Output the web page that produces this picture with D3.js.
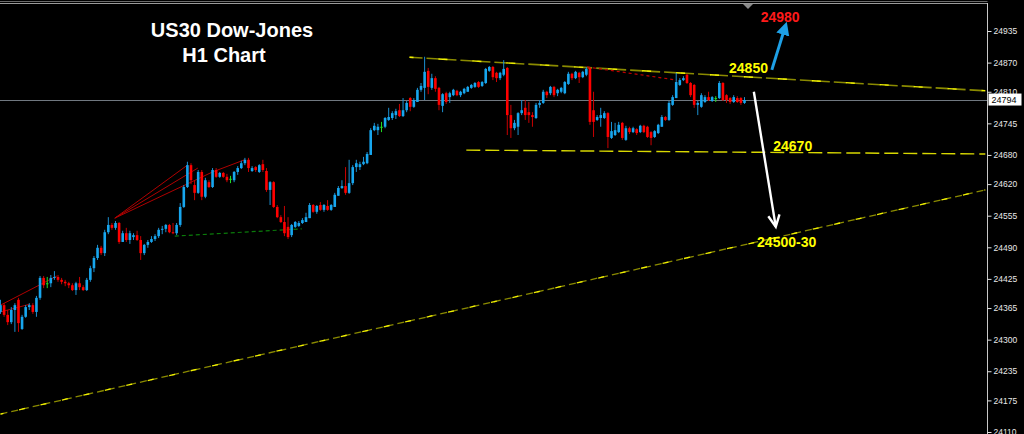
<!DOCTYPE html>
<html><head><meta charset="utf-8">
<script src="https://cdn.jsdelivr.net/npm/d3@7"></script>
<style>html,body{margin:0;padding:0;background:#000;overflow:hidden}svg{display:block}</style>
</head><body><svg id="c" width="1024" height="434"></svg>
<script>
// ---- data (US30 H1 candles) ----
const open = [24357,24371,24351,24336,24361,24382,24322,24347,24367,24371,
24357,24386,24427,24416,24416,24427,24429,24423,24419,24416,
24412,24402,24416,24408,24402,24423,24447,24468,24489,24478,
24521,24536,24530,24540,24501,24519,24505,24511,24515,24505,
24478,24495,24501,24507,24513,24526,24528,24536,24521,24519,
24536,24573,24614,24659,24618,24602,24645,24594,24624,24614,
24649,24635,24643,24635,24631,24628,24645,24653,24663,24670,
24647,24655,24645,24661,24647,24608,24624,24573,24552,24542,
24532,24515,24532,24534,24540,24542,24550,24577,24563,24577,
24567,24575,24567,24573,24596,24612,24616,24602,24622,24655,
24655,24661,24663,24680,24731,24731,24738,24738,24752,24756,
24762,24772,24760,24772,24797,24779,24789,24814,24818,24853,
24818,24838,24818,24781,24807,24799,24803,24812,24803,24807,
24810,24818,24820,24830,24822,24828,24853,24861,24849,24838,
24845,24859,24762,24735,24738,24766,24777,24768,24762,24756,
24783,24787,24810,24807,24820,24807,24810,24807,24826,24847,
24838,24849,24840,24845,24859,24772,24752,24756,24756,24766,
24715,24721,24727,24746,24711,24735,24727,24733,24727,24740,
24738,24727,24717,24725,24738,24758,24752,24783,24797,24824,
24834,24845,24828,24824,24783,24779,24789,24799,24791,24797,
24797,24828,24803,24797,24789,24797,24797,24787];
const high = [24382,24375,24361,24367,24375,24386,24351,24371,24375,24375,
24390,24431,24431,24429,24433,24441,24433,24427,24423,24419,
24416,24419,24429,24412,24427,24452,24472,24495,24493,24526,
24552,24540,24544,24542,24524,24530,24524,24519,24524,24513,
24497,24505,24513,24517,24530,24534,24538,24538,24540,24540,
24581,24618,24666,24663,24628,24649,24649,24633,24628,24653,
24653,24645,24645,24641,24637,24647,24657,24668,24674,24674,
24657,24657,24661,24670,24653,24626,24626,24577,24556,24575,
24552,24538,24544,24544,24550,24561,24581,24579,24577,24583,
24579,24587,24579,24602,24616,24628,24655,24670,24659,24670,
24666,24676,24686,24735,24746,24744,24748,24758,24777,24770,
24775,24785,24797,24791,24799,24797,24818,24828,24882,24859,
24847,24842,24820,24807,24810,24810,24816,24814,24812,24818,
24822,24826,24830,24832,24832,24859,24863,24863,24851,24851,
24875,24861,24783,24752,24768,24793,24793,24789,24768,24787,
24793,24814,24812,24822,24822,24816,24820,24832,24851,24849,
24853,24851,24853,24861,24861,24810,24762,24777,24770,24768,
24748,24746,24748,24748,24740,24738,24738,24735,24742,24742,
24740,24729,24731,24744,24762,24760,24791,24803,24849,24838,
24842,24847,24830,24826,24791,24807,24803,24810,24801,24801,
24832,24830,24805,24799,24803,24801,24799,24799];
const low = [24353,24347,24330,24332,24316,24316,24320,24345,24361,24353,
24347,24382,24406,24406,24408,24423,24419,24414,24410,24406,
24400,24392,24402,24400,24400,24419,24439,24464,24474,24472,
24517,24526,24526,24497,24501,24501,24497,24505,24503,24464,
24474,24489,24499,24503,24509,24517,24521,24519,24517,24515,
24532,24571,24612,24620,24587,24600,24587,24591,24612,24612,
24633,24633,24633,24624,24622,24624,24639,24651,24659,24645,
24645,24645,24643,24645,24604,24577,24571,24550,24540,24513,
24507,24511,24530,24532,24538,24542,24550,24561,24559,24565,
24563,24565,24565,24573,24596,24610,24598,24600,24618,24645,
24649,24659,24661,24680,24729,24721,24727,24735,24750,24752,
24754,24758,24758,24768,24770,24777,24789,24810,24793,24805,
24814,24810,24772,24768,24785,24787,24801,24801,24799,24805,
24810,24816,24818,24818,24820,24826,24851,24834,24830,24834,
24842,24721,24715,24731,24721,24762,24752,24746,24738,24754,
24777,24785,24797,24803,24799,24801,24807,24805,24824,24834,
24836,24828,24838,24842,24742,24717,24750,24738,24754,24694,
24713,24719,24725,24711,24709,24723,24725,24721,24725,24725,
24715,24700,24715,24723,24738,24750,24750,24781,24797,24822,
24832,24826,24799,24777,24762,24777,24787,24791,24789,24789,
24795,24791,24787,24785,24787,24787,24783,24785];
const close = [24371,24351,24336,24361,24371,24334,24347,24367,24371,24357,
24386,24427,24412,24416,24427,24429,24423,24419,24416,24412,
24402,24416,24408,24402,24423,24447,24468,24489,24478,24521,
24536,24530,24540,24501,24519,24505,24519,24515,24505,24478,
24495,24501,24507,24513,24526,24528,24536,24521,24519,24536,
24573,24614,24659,24628,24602,24645,24594,24628,24614,24649,
24635,24643,24635,24628,24631,24645,24653,24663,24670,24653,
24653,24649,24659,24649,24608,24624,24573,24552,24542,24519,
24511,24536,24542,24540,24546,24552,24577,24563,24575,24567,
24577,24567,24577,24598,24612,24616,24602,24622,24655,24663,
24661,24666,24682,24731,24740,24738,24738,24756,24758,24766,
24770,24760,24772,24787,24779,24793,24814,24822,24851,24820,
24838,24816,24783,24805,24789,24807,24814,24803,24810,24816,
24820,24824,24828,24820,24830,24857,24861,24840,24838,24849,
24857,24762,24735,24746,24766,24772,24762,24762,24758,24783,
24787,24810,24803,24820,24803,24814,24818,24830,24847,24838,
24851,24840,24851,24857,24748,24748,24758,24762,24766,24717,
24729,24731,24742,24715,24735,24727,24735,24725,24740,24727,
24717,24715,24729,24742,24758,24752,24787,24799,24830,24834,
24838,24828,24803,24783,24787,24803,24799,24793,24799,24797,
24828,24793,24793,24789,24799,24789,24787,24793];

const priceTicks = [24935,24870,24810,24745,24680,24620,24555,24490,24425,24365,24300,24235,24175,24110];
const currentPrice = 24794;

// drawn objects: [barIndex, price] pairs
const resistanceLine = [[113.8, 24881], [274, 24812]];
const supportLine = [[129.6, 24690], [274, 24682]];
const risingLine = [[0, 24147], [274, 24608]];
const redLines = [
  [[0, 24371], [15.7, 24431]],
  [[0, 24357], [8.2, 24373]],
  [[31.8, 24550], [52, 24659]],
  [[31.8, 24550], [54.9, 24653]],
  [[31.8, 24550], [59, 24645]],
  [[59, 24645], [67.9, 24670]]
];
const redDotted = [[163.2, 24861], [188.2, 24834]];
const greenDashed = [[48.5, 24513], [83.8, 24528]];
const upArrow = [[214.6, 24855], [218.2, 24941]];
const downArrow = [[209.6, 24810], [215.7, 24532]];
const labels = [
  {text: "24980", idx: 211.5, price: 24953, color: "#ff1a1a"},
  {text: "24850", idx: 202.7, price: 24848, color: "#ffff00"},
  {text: "24670", idx: 215.0, price: 24688, color: "#ffff00"},
  {text: "24500-30", idx: 210.5, price: 24490, color: "#ffff00"}
];
const titleLines = ["US30 Dow-Jones", "H1 Chart"];

// ---- drawing ----
const svg = d3.select("#c");
const W = 1024, H = 434, axisX = 987.5;
svg.append("rect").attr("width", W).attr("height", H).attr("fill", "#000");

const N = close.length;
const x = d3.scaleLinear().domain([0, N - 1]).range([0.5, 744.5]);
const y = d3.scaleLinear().domain([24110, 24935]).range([432, 31]);

const plot = svg.append("g");
const line = d3.line().x(d => x(d[0])).y(d => y(d[1]));

// rising support trendline
plot.append("path").attr("d", line(risingLine)).attr("stroke", "#8a8a00").attr("stroke-width", 1.3)
  .attr("fill", "none").attr("stroke-dasharray", "7 4");
plot.append("path").attr("d", line(risingLine)).attr("stroke", "#f0f000").attr("stroke-width", 1.3)
  .attr("fill", "none").attr("stroke-dasharray", "6 16").attr("stroke-dashoffset", 3);

// 24670 support line
plot.append("path").attr("d", line(supportLine)).attr("stroke", "#d8d800").attr("stroke-width", 1.4)
  .attr("fill", "none").attr("stroke-dasharray", "14 5");

// resistance line
plot.append("path").attr("d", line(resistanceLine)).attr("stroke", "#8a8a00").attr("stroke-width", 1.6)
  .attr("fill", "none").attr("stroke-dasharray", "13 4");
plot.append("path").attr("d", line(resistanceLine)).attr("stroke", "#f2f200").attr("stroke-width", 1.4)
  .attr("fill", "none").attr("stroke-dasharray", "9 25").attr("stroke-dashoffset", 5);

// current price line
plot.append("line").attr("x1", 0).attr("x2", axisX).attr("y1", Math.round(y(currentPrice)) + 0.5)
  .attr("y2", Math.round(y(currentPrice)) + 0.5).attr("stroke", "#707880").attr("stroke-width", 1.2);

// red analysis lines
redLines.forEach(l => plot.append("path").attr("d", line(l)).attr("stroke", "#b00000")
  .attr("stroke-width", 1).attr("fill", "none"));
plot.append("path").attr("d", line(redDotted)).attr("stroke", "#c00000").attr("stroke-width", 1.2)
  .attr("fill", "none").attr("stroke-dasharray", "3 3");
plot.append("path").attr("d", line(greenDashed)).attr("stroke", "#0a7a0a").attr("stroke-width", 1.2)
  .attr("fill", "none").attr("stroke-dasharray", "4 3");

// candles
const bw = 2.6;
const cg = plot.append("g");
d3.range(N).forEach(i => {
  const o = open[i], c = close[i];
  const h = Math.max(high[i], o, c), l = Math.min(low[i], o, c);
  const doji = Math.abs(o - c) < 1;
  const bull = c > o;
  const wickCol = doji ? "#22dd22" : (bull ? "#1b8fd0" : "#c80000");
  const bodyCol = doji ? "#22dd22" : (bull ? "#17a6ee" : "#ff0000");
  const cx = x(i);
  cg.append("line").attr("x1", cx).attr("x2", cx).attr("y1", y(h)).attr("y2", y(l))
    .attr("stroke", wickCol).attr("stroke-width", 1);
  const top = y(Math.max(o, c)), bot = y(Math.min(o, c));
  cg.append("rect").attr("x", cx - bw / 2).attr("y", top).attr("width", bw)
    .attr("height", Math.max(1, bot - top)).attr("fill", bodyCol);
});

// arrows
const defs = svg.append("defs");
defs.append("marker").attr("id", "bluehead").attr("viewBox", "0 0 10 10").attr("refX", 5).attr("refY", 5)
  .attr("markerWidth", 4.5).attr("markerHeight", 4.5).attr("orient", "auto")
  .append("path").attr("d", "M0,0 L10,5 L0,10 z").attr("fill", "#1ea0e6");
plot.append("path").attr("d", line(upArrow)).attr("stroke", "#1ea0e6").attr("stroke-width", 3)
  .attr("fill", "none").attr("marker-end", "url(#bluehead)");

plot.append("path").attr("d", line(downArrow)).attr("stroke", "#ffffff").attr("stroke-width", 2.4)
  .attr("fill", "none");
{
  const [p0, p1] = downArrow;
  const x0 = x(p0[0]), y0 = y(p0[1]), x1 = x(p1[0]), y1 = y(p1[1]);
  const ang = Math.atan2(y1 - y0, x1 - x0);
  const len = 13, spread = 0.45;
  const a1 = [x1 - len * Math.cos(ang - spread), y1 - len * Math.sin(ang - spread)];
  const a2 = [x1 - len * Math.cos(ang + spread), y1 - len * Math.sin(ang + spread)];
  plot.append("path").attr("d", `M${a1[0]},${a1[1]}L${x1},${y1}L${a2[0]},${a2[1]}`)
    .attr("stroke", "#fff").attr("stroke-width", 2.4).attr("fill", "none").attr("stroke-linejoin", "miter");
}

// annotations
labels.forEach(d => {
  plot.append("text").attr("x", x(d.idx)).attr("y", y(d.price)).text(d.text)
    .attr("fill", d.color).attr("font-family", "Liberation Sans, Arial, sans-serif")
    .attr("font-weight", "bold").attr("font-size", 14);
});

// title
const titleX = [232, 224];
titleLines.forEach((t, k) => {
  svg.append("text").attr("x", titleX[k]).attr("y", 37 + k * 25).attr("text-anchor", "middle").text(t)
    .attr("fill", "#ffffff").attr("font-family", "Liberation Sans, Arial, sans-serif")
    .attr("font-weight", "bold").attr("font-size", 20);
});

// frame
svg.append("line").attr("x1", 0).attr("x2", axisX).attr("y1", 1.5).attr("y2", 1.5).attr("stroke", "#6a6a6a").attr("stroke-width", 1);
svg.append("line").attr("x1", 0).attr("x2", axisX).attr("y1", 3.5).attr("y2", 3.5).attr("stroke", "#9a9a9a").attr("stroke-width", 1);
svg.append("path").attr("d", "M743,4 L753,4 L748,9 z").attr("fill", "#8a8a8a");

// price axis
const axis = d3.axisRight(y).tickValues(priceTicks).tickSize(4).tickPadding(2).tickFormat(d3.format("d"));
const ag = svg.append("g").attr("transform", `translate(${axisX},0)`).call(axis);
ag.select(".domain").attr("stroke", "#c8c8c8").attr("d", `M0,3V${H}`);
ag.selectAll(".tick line").attr("stroke", "#e0e0e0");
ag.selectAll(".tick text").attr("fill", "#e8e8e8").attr("font-family", "Liberation Sans, Arial, sans-serif")
  .attr("font-size", 8.5);

// current price label
const cy = y(currentPrice);
svg.append("rect").attr("x", axisX + 1).attr("y", cy - 6).attr("width", 33).attr("height", 12).attr("fill", "#ffffff");
svg.append("text").attr("x", axisX + 4).attr("y", cy + 3.5).text(String(currentPrice)).attr("fill", "#000")
  .attr("font-family", "Liberation Sans, Arial, sans-serif").attr("font-size", 9);
</script></body></html>
